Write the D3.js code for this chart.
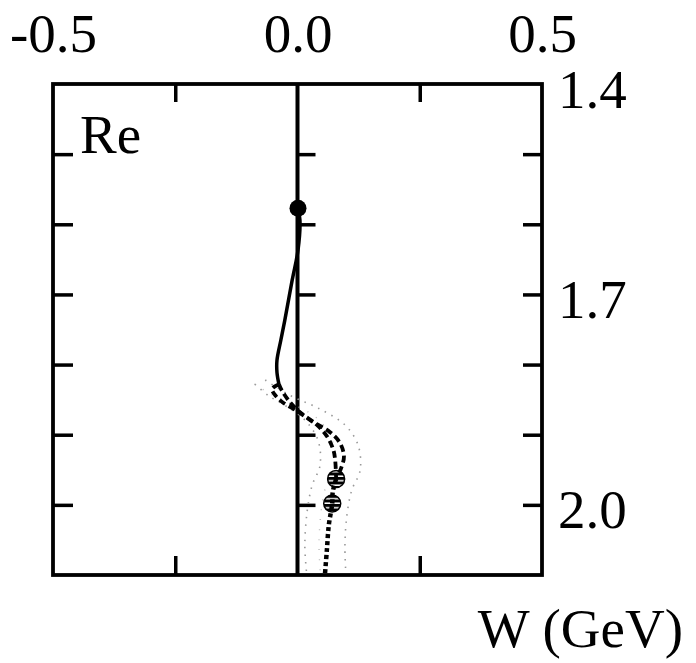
<!DOCTYPE html>
<html>
<head>
<meta charset="utf-8">
<script src="https://cdn.jsdelivr.net/npm/d3@7"></script>
<style>
  body { margin: 0; background: #fff; }
  text { font-family: "Liberation Serif", "Times New Roman", serif; }
</style>
</head>
<body>
<div id="chart"></div>
<script>
// x = Re part, w = W (GeV)
var solidX = [0.001, 0.005, 0.001, -0.011, -0.026, -0.034, -0.042, -0.042, -0.038];
var solidW = [1.577, 1.594, 1.637, 1.680, 1.737, 1.765, 1.794, 1.811, 1.828];

var dashAX = [-0.038, -0.052, -0.044, -0.030, -0.001, 0.032, 0.066, 0.087, 0.095, 0.089, 0.079];
var dashAW = [1.828, 1.835, 1.845, 1.854, 1.866, 1.882, 1.896, 1.912, 1.931, 1.948, 1.963];

var dashBX = [-0.038, -0.032, -0.015, 0.005, 0.038, 0.060, 0.073, 0.077, 0.079];
var dashBW = [1.828, 1.837, 1.854, 1.868, 1.885, 1.902, 1.921, 1.936, 1.963];

var dotX = [0.079, 0.072, 0.071, 0.064, 0.060, 0.056];
var dotW = [1.963, 1.982, 1.998, 2.029, 2.065, 2.100];

var bandLoX = [-0.087, -0.060, -0.026, 0.015, 0.042, 0.046, 0.030, 0.020, 0.015, 0.019];
var bandLoW = [1.828, 1.844, 1.858, 1.879, 1.908, 1.944, 1.972, 2.008, 2.058, 2.100];
var bandHiX = [-0.066, -0.015, 0.042, 0.097, 0.124, 0.128, 0.111, 0.101, 0.097, 0.099];
var bandHiW = [1.822, 1.844, 1.862, 1.886, 1.915, 1.951, 1.979, 2.015, 2.058, 2.100];

var poleX = [0.001];
var poleW = [1.577];
var ptsX = [0.079, 0.071];
var ptsW = [1.963, 1.998];

var xTicks = [-0.5, 0.0, 0.5];
var xMinor = [-0.25, 0.25];
var wTicks = [1.4, 1.7, 2.0];
var wMinor = [1.5, 1.6, 1.7, 1.8, 1.9, 2.0];

var width = 696, height = 663;
var margin = {left: 53, right: 542, top: 84, bottom: 575};

var svg = d3.select("#chart")
  .append("svg")
    .attr("width", width)
    .attr("height", height);

var defs = svg.append("defs");
defs.append("pattern")
    .attr("id", "stripes")
    .attr("patternUnits", "userSpaceOnUse")
    .attr("width", 4)
    .attr("height", 4.5)
  .append("rect")
    .attr("width", 4)
    .attr("height", 3)
    .attr("fill", "#000");

var x = d3.scaleLinear().domain([-0.5, 0.5]).range([margin.left, margin.right]);
var y = d3.scaleLinear().domain([1.4, 2.1]).range([margin.top, margin.bottom]);

function pairs(xs, ws) {
  return xs.map(function(v, i) { return [v, ws[i]]; });
}
var line = d3.line()
  .x(function(d) { return x(d[0]); })
  .y(function(d) { return y(d[1]); })
  .curve(d3.curveCatmullRom);

// labels (top and right)
var topAxis = svg.append("g")
  .attr("transform", "translate(0," + margin.top + ")")
  .call(d3.axisTop(x).tickValues(xTicks).tickSize(0).tickPadding(32)
    .tickFormat(function(d) { return d3.format(".1f")(d).replace("−", "-"); }));
var rightAxis = svg.append("g")
  .attr("transform", "translate(" + margin.right + ",0)")
  .call(d3.axisRight(y).tickValues(wTicks).tickSize(0).tickPadding(16)
    .tickFormat(d3.format(".1f")));
[topAxis, rightAxis].forEach(function(a) {
  a.select(".domain").remove();
  a.selectAll("text")
    .attr("font-family", "Liberation Serif, Times New Roman, serif")
    .attr("font-size", 55)
    .attr("fill", "#000");
});
rightAxis.selectAll("text").attr("dy", "0.42em");

// inner ticks
function ticks(g) {
  g.select(".domain").remove();
  g.selectAll("line").attr("stroke", "#000").attr("stroke-width", 3.5);
  g.selectAll("text").remove();
}
svg.append("g").attr("transform", "translate(0," + margin.top + ")")
  .call(d3.axisTop(x).tickValues(xMinor).tickSize(-18)).call(ticks);
svg.append("g").attr("transform", "translate(0," + margin.bottom + ")")
  .call(d3.axisBottom(x).tickValues(xMinor).tickSize(-19)).call(ticks);
svg.append("g").attr("transform", "translate(" + margin.left + ",0)")
  .call(d3.axisRight(y).tickValues(wMinor).tickSize(20)).call(ticks);
svg.append("g").attr("transform", "translate(" + margin.right + ",0)")
  .call(d3.axisLeft(y).tickValues(wMinor).tickSize(19)).call(ticks);
svg.append("g").attr("transform", "translate(" + x(0) + ",0)")
  .call(d3.axisRight(y).tickValues(wMinor).tickSize(18)).call(ticks);

// zero line
svg.append("line")
  .attr("x1", x(0)).attr("x2", x(0))
  .attr("y1", y(1.4)).attr("y2", y(2.1))
  .attr("stroke", "#000").attr("stroke-width", 4);

// uncertainty band (grey dots)
[pairs(bandLoX, bandLoW), pairs(bandHiX, bandHiW)].forEach(function(d) {
  svg.append("path")
    .attr("d", line(d))
    .attr("fill", "none")
    .attr("stroke", "#999")
    .attr("stroke-width", 1.6)
    .attr("stroke-dasharray", "1.5,6");
});
svg.append("path")
  .attr("d", line(pairs(bandLoX, bandLoW).map(function(d, i) {
    return [(d[0] + bandHiX[i]) / 2 - 0.012, d[1]];
  })))
  .attr("fill", "none")
  .attr("stroke", "#bbb")
  .attr("stroke-width", 1.4)
  .attr("stroke-dasharray", "1,9");

// curves
svg.append("path")
  .attr("d", line(pairs(solidX, solidW)))
  .attr("fill", "none").attr("stroke", "#000").attr("stroke-width", 3.5);
[pairs(dashAX, dashAW), pairs(dashBX, dashBW)].forEach(function(d) {
  svg.append("path")
    .attr("d", line(d))
    .attr("fill", "none").attr("stroke", "#000").attr("stroke-width", 3.8)
    .attr("stroke-dasharray", "7,4");
});
svg.append("path")
  .attr("d", line(pairs(dotX, dotW)))
  .attr("fill", "none").attr("stroke", "#000").attr("stroke-width", 4.5)
  .attr("stroke-dasharray", "4,3");

// points
svg.selectAll(".pole")
  .data(pairs(poleX, poleW))
  .enter().append("circle")
    .attr("cx", function(d) { return x(d[0]); })
    .attr("cy", function(d) { return y(d[1]); })
    .attr("r", 8.5)
    .attr("fill", "#000");
svg.selectAll(".pt")
  .data(pairs(ptsX, ptsW))
  .enter().append("circle")
    .attr("cx", function(d) { return x(d[0]); })
    .attr("cy", function(d) { return y(d[1]); })
    .attr("r", 8.5)
    .attr("fill", "url(#stripes)")
    .attr("stroke", "#000")
    .attr("stroke-width", 1.5);

// frame
svg.append("rect")
  .attr("x", margin.left).attr("y", margin.top)
  .attr("width", margin.right - margin.left).attr("height", margin.bottom - margin.top)
  .attr("fill", "none").attr("stroke", "#000").attr("stroke-width", 3.8);

svg.append("text")
  .attr("x", 80).attr("y", 153)
  .attr("font-size", 55)
  .text("Re");

svg.append("text")
  .attr("x", 683).attr("y", 647)
  .attr("text-anchor", "end")
  .attr("font-size", 55)
  .text("W (GeV)");
</script>
</body>
</html>
